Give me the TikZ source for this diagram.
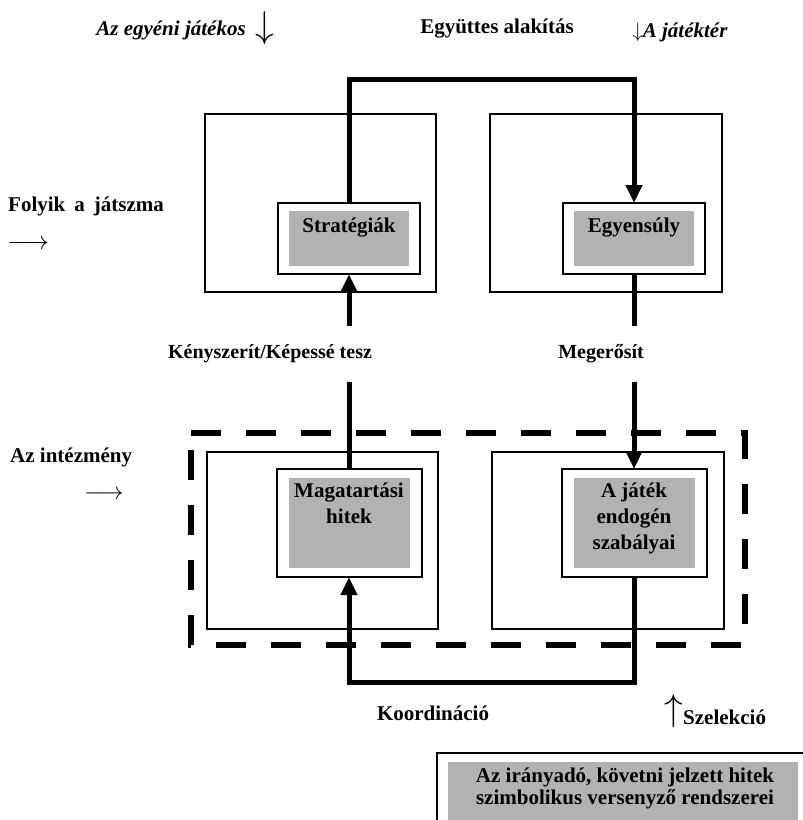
\documentclass[tikz,border=0pt]{standalone}
\usepackage{fontspec}
\usepackage{graphicx}
\setmainfont{Liberation Serif}
\usetikzlibrary{arrows.meta,fit,calc}
\definecolor{boxgray}{RGB}{178,178,178}
\begin{document}
\begin{tikzpicture}[x=1pt,y=-1pt,
  outerbox/.style={draw, line width=1.4pt, inner sep=0pt, outer sep=0pt},
  graybox/.style={fill=boxgray, inner sep=0pt, outer sep=0pt},
  innerbox/.style={draw, line width=2pt, outer sep=0pt},
  conn/.style={line width=5pt, line join=miter},
  tip/.style={-{Triangle[length=18pt,width=16pt]}},
  lbl/.style={font=\bfseries\fontsize{21}{26}\selectfont, inner sep=0pt},
  slbl/.style={font=\bfseries\fontsize{20}{24}\selectfont, inner sep=0pt},
  ilbl/.style={font=\bfseries\itshape\fontsize{21}{26}\selectfont, inner sep=0pt},
  arr/.style={font=\fontsize{20}{24}\selectfont, inner sep=0pt},
  dashline/.style={line width=6.5pt, dash pattern=on 30pt off 25pt, line join=miter}
]
\useasboundingbox (0,0) rectangle (803,820);

% top labels
\node[ilbl] (tA) at (171,30) {Az egyéni játékos};
\node[arr] (tAarr) at (265,28) {\scalebox{1.8}{$\downarrow$}};
\node[lbl] (tB) at (497,29) {Együttes alakítás};
\node[ilbl] (tC) at (680,32) {\fontsize{20}{24}\selectfont$\downarrow$\fontsize{21}{26}\selectfont A játéktér};

% left labels
\node[lbl, anchor=west] (fol) at (8,206) {Folyik\hspace{9pt}a\hspace{9pt}játszma};
\node[arr, anchor=west] (folarr) at (7,245) {\scalebox{1.25}{$\longrightarrow$}};
\node[lbl, anchor=west] (inst) at (10,457) {Az intézmény};
\node[arr] (instarr) at (104,495) {\scalebox{1.18}{$\longrightarrow$}};

% outer boxes
\node[outerbox, minimum width=231pt, minimum height=178pt] (o1) at (320.5,203) {};
\node[outerbox, minimum width=232pt, minimum height=178pt] (o2) at (606,203) {};
\node[outerbox, minimum width=231pt, minimum height=177pt] (o3) at (322.5,540.5) {};
\node[outerbox, minimum width=232pt, minimum height=177pt] (o4) at (608,540.5) {};

% dashed institution frame
\node[inner sep=0pt, outer sep=0pt, minimum width=554pt, minimum height=212pt] (frame) at (468,539) {};
\draw[dashline] (frame.north west) -- (frame.north east) -- (frame.south east) -- (frame.south west) -- cycle;

% gray boxes and their frames
\node[graybox, minimum width=120pt, minimum height=55pt] (g1) at (349,238.5) {};
\node[graybox, minimum width=120pt, minimum height=55pt] (g2) at (634,238.5) {};
\node[graybox, minimum width=121pt, minimum height=90pt] (g3) at (349,523) {};
\node[graybox, minimum width=121pt, minimum height=90pt] (g4) at (634,523) {};
\node[innerbox, fit=(g1), inner xsep=11pt, inner ysep=8pt] (s1) {};
\node[innerbox, fit=(g2), inner xsep=11pt, inner ysep=8pt] (s2) {};
\node[innerbox, fit=(g3), inner xsep=12pt, inner ysep=9pt] (m1) {};
\node[innerbox, fit=(g4), inner xsep=12pt, inner ysep=9pt] (m2) {};

\node[lbl, anchor=north] (t1) at ([yshift=-7pt]g1.north) {Stratégiák};
\node[lbl, anchor=north] (t2) at ([yshift=-7pt]g2.north) {Egyensúly};
\node[lbl, anchor=north, align=center] (t3) at ([yshift=-5pt]g3.north) {Magatartási\\hitek};
\node[lbl, anchor=north, align=center] (t4) at ([yshift=-5pt]g4.north) {A játék\\endogén\\szabályai};

% middle labels
\node[slbl, minimum height=56pt] (k1) at (270,354) {Kényszerít/Képessé tesz};
\node[slbl, minimum height=56pt] (k2) at (601,354) {Megerősít};

% connectors
\coordinate (topc) at (0,79);
\coordinate (botc) at (0,682);
\draw[conn, tip] (s1.north) -- (s1.north |- topc) -| (s2.north);
\draw[conn] (m1.north) -- (m1.north |- k1.south);
\draw[conn, tip] (s1.south |- k1.north) -- (s1.south);
\draw[conn] (s2.south) -- (s2.south |- k2.north);
\draw[conn, tip] (m2.north |- k2.south) -- (m2.north);
\draw[conn, tip] (m2.south) -- (m2.south |- botc) -| (m1.south);

% bottom labels
\node[lbl] (koord) at (433,713) {Koordináció};
\node[arr] (selarr) at (674,711) {\scalebox{1.8}{$\uparrow$}};
\node[lbl, anchor=west] (sel) at (683,717) {Szelekció};

% bottom box
\node[draw, line width=2pt, inner sep=0pt, outer sep=0pt, anchor=north west, minimum width=380pt, minimum height=90pt] (bb) at (437,753) {};
\node[graybox, anchor=north west, minimum width=350pt, minimum height=80pt] (bg) at (448,762) {};
\node[lbl, align=center, font=\bfseries\fontsize{21}{22}\selectfont] (bt) at (625,788) {Az irányadó, követni jelzett hitek\\szimbolikus versenyző rendszerei};
\end{tikzpicture}
\end{document}
